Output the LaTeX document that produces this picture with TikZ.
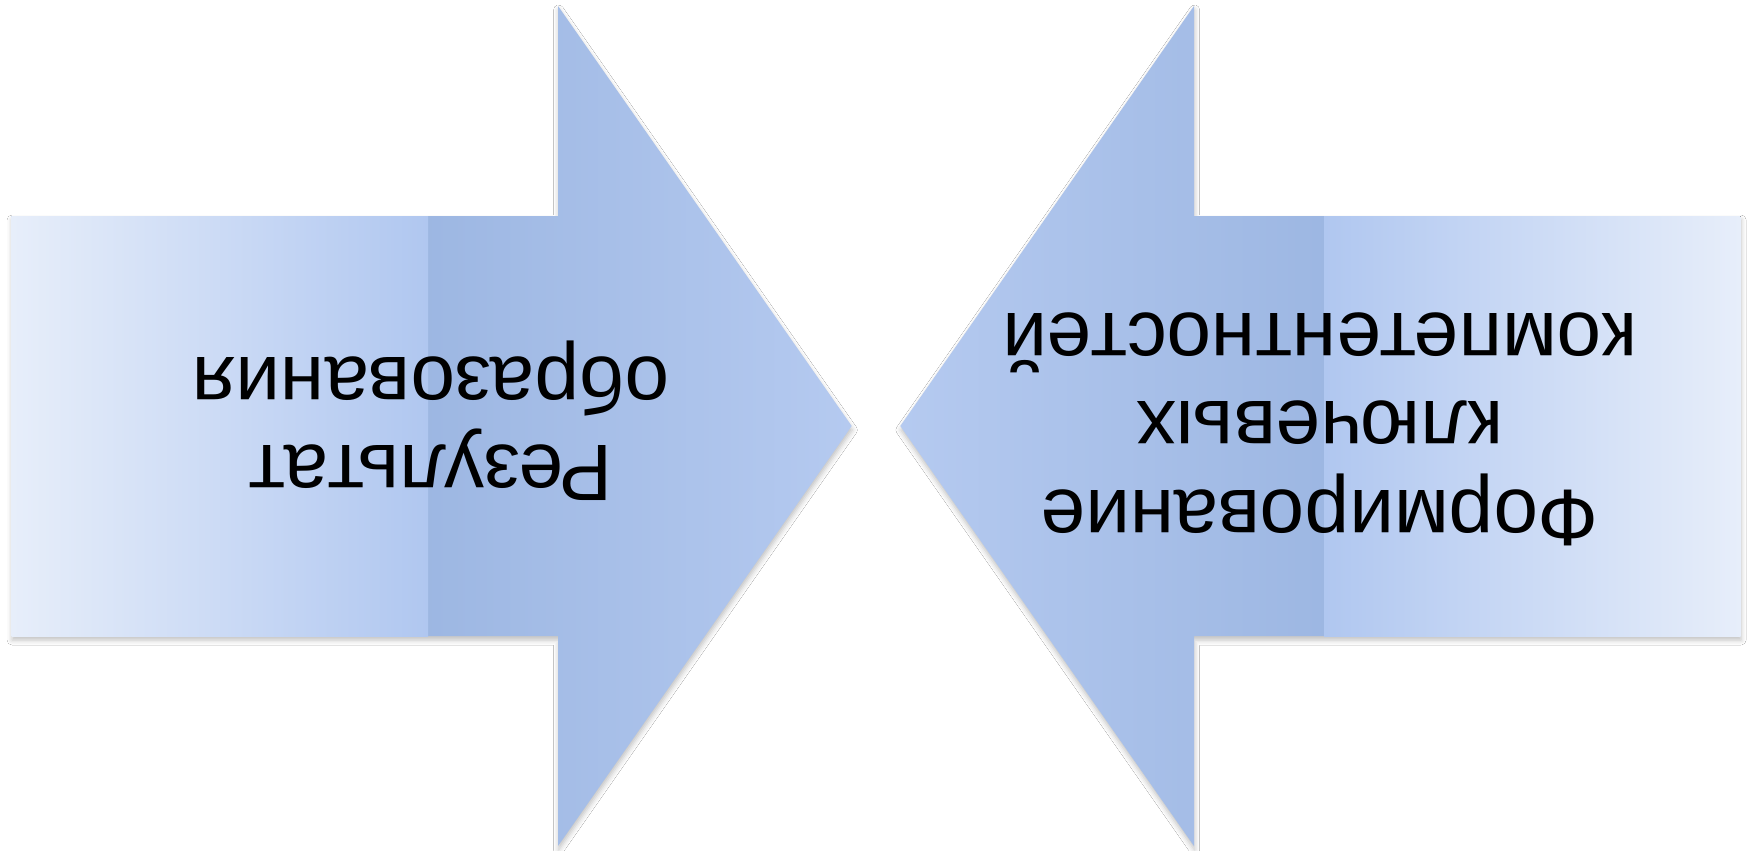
\documentclass[tikz,border=0pt]{standalone}
\usepackage{fontspec}
\setmainfont{Liberation Sans}
\usetikzlibrary{shadows.blur}
\definecolor{arrowdark}{RGB}{133,164,213}
\definecolor{arrowlight}{RGB}{181,202,240}
\definecolor{boxlight}{RGB}{231,238,250}
\definecolor{boxdark}{RGB}{176,199,240}
\begin{document}
\begin{tikzpicture}[x=0.5pt,y=-0.5pt,
  arrowshape/.style={blur shadow={shadow xshift=0.3pt,shadow yshift=-2pt,shadow blur radius=2.5pt,shadow opacity=25}},
  arrowtext/.style={font=\fontsize{40}{44.3}\selectfont, align=center, rotate=180, inner sep=0pt, anchor=base, text=black}]
\useasboundingbox (0,0) rectangle (1751,851);
\fill[white] (0,0) rectangle (1751,851);
% left arrow
\path[arrowshape, left color=arrowdark, right color=arrowlight]
  (11.5,216) -- (558,216) -- (558,6) -- (851.7,426) -- (558,846) -- (558,636) -- (11.5,636) -- cycle;
\fill[left color=boxlight, right color=boxdark] (11.5,216) rectangle (428,636);
% right arrow
\path[arrowshape, left color=arrowlight, right color=arrowdark]
  (1740.5,216) -- (1194,216) -- (1194,6) -- (900.3,426) -- (1194,846) -- (1194,636) -- (1740.5,636) -- cycle;
\fill[left color=boxdark, right color=boxlight] (1324,216) rectangle (1740.5,636);
% texts (anchor = baseline of the last line, which is shown on top)
\node[arrowtext] (lefttext) at (431,357) {Результат\\образования};
\node[arrowtext] (righttext) at (1320,313) {Формирование\\ключевых\\компетентностей};
\end{tikzpicture}
\end{document}
